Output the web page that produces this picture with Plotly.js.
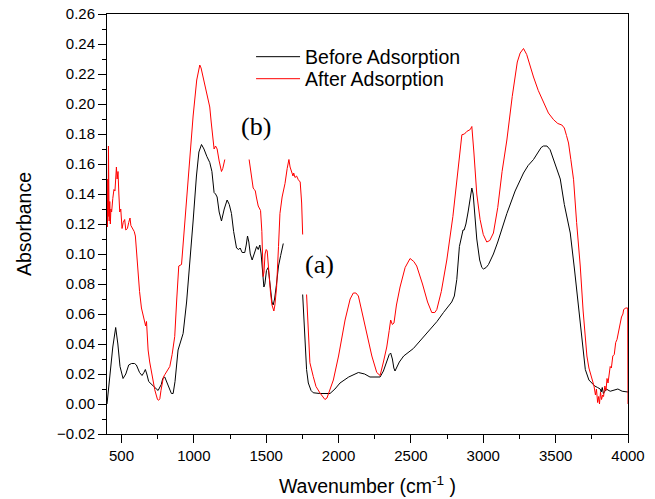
<!DOCTYPE html>
<html>
<head>
<meta charset="utf-8">
<script src="https://cdn.plot.ly/plotly-3.0.1.min.js"></script>
<style>html,body{margin:0;padding:0;background:#fff;}#chart{width:655px;height:499px;}</style>
</head>
<body>
<div id="chart"></div>
<script>
// Before Adsorption (black) — wavenumber / absorbance
const beforeX = [400,410,419,440,460,475,490,511,530,550,569,590,603,625,642,655,665,675,688,720,753,775,785,799,815,830,845,857,870,891,910,926,950,972,995,1018,1035,1053,1070,1090,1110,1125,1132,1140,1150,1161,1175,1191,1210,1230,1245,1260,1275,1295,1310,1320,1334,1352,1362,1371,1380,1390,1403,1420,1434,1445,1456,1465,1475,1484,1491,1502,1514,1522,1530,1540,1548,1558,1570,1585,1600,1618,1685,1752,1760,1768,1779,1791,1810,1825,1870,1941,1975,2010,2070,2137,2180,2217,2250,2287,2310,2333,2350,2360,2372,2382,2390,2420,2450,2517,2580,2632,2680,2725,2760,2782,2800,2817,2835,2852,2860,2868,2880,2895,2910,2921,2930,2942,2955,2975,2990,3001,3020,3036,3070,3100,3130,3163,3220,3278,3310,3347,3380,3400,3416,3440,3462,3490,3515,3532,3560,3580,3601,3630,3659,3685,3705,3730,3751,3770,3790,3808,3815,3822,3830,3840,3850,3877,3900,3930,3960,3993,4000];
const beforeY = [0.000,0.012,0.018,0.038,0.051,0.040,0.025,0.017,0.020,0.026,0.027,0.027,0.026,0.021,0.019,0.021,0.023,0.020,0.015,0.012,0.009,0.013,0.017,0.018,0.014,0.010,0.007,0.007,0.015,0.036,0.042,0.047,0.068,0.092,0.122,0.152,0.168,0.173,0.170,0.165,0.161,0.155,0.146,0.141,0.140,0.138,0.128,0.122,0.130,0.136,0.133,0.127,0.115,0.104,0.103,0.104,0.101,0.101,0.106,0.112,0.108,0.100,0.096,0.101,0.105,0.103,0.106,0.100,0.090,0.078,0.080,0.089,0.091,0.085,0.076,0.068,0.066,0.070,0.079,0.092,0.099,0.107,null,0.073,0.055,0.038,0.023,0.014,0.009,0.0075,0.007,0.007,0.010,0.014,0.018,0.021,0.020,0.018,0.018,0.018,0.022,0.029,0.033,0.034,0.030,0.024,0.022,0.028,0.032,0.037,0.044,0.050,0.055,0.061,0.065,0.068,0.072,0.083,0.105,0.114,0.116,0.116,0.120,0.128,0.138,0.144,0.140,0.124,0.110,0.096,0.091,0.090,0.091,0.093,0.100,0.108,0.117,0.127,0.142,0.154,0.159,0.163,0.168,0.171,0.172,0.172,0.1695,0.162,0.155,0.150,0.133,0.124,0.114,0.090,0.065,0.040,0.023,0.016,0.014,0.012,0.011,0.010,0.008,0.011,0.007,0.009,0.010,0.0085,0.009,0.010,0.0085,0.0078,0.008];

// After Adsorption (red)
const afterX = [400,403,406,408,410,412,415,419,423,427,432,440,448,455,460,465,470,476,482,488,495,504,512,522,530,541,550,559,565,572,580,588,596,605,615,625,638,650,661,667,673,684,695,707,720,730,740,749,757,765,773,781,790,799,815,834,850,868,882,896,915,930,949,970,995,1020,1041,1050,1064,1075,1087,1098,1110,1120,1130,1140,1150,1161,1175,1191,1200,1214,1300,1382,1395,1410,1418,1425,1432,1445,1461,1470,1479,1485,1492,1500,1507,1514,1522,1530,1540,1548,1553,1560,1572,1585,1595,1610,1630,1645,1657,1665,1675,1685,1690,1699,1710,1722,1735,1745,1752,1765,1779,1790,1802,1825,1844,1872,1906,1920,1940,1964,2000,2045,2080,2102,2120,2137,2165,2195,2230,2264,2287,2310,2333,2350,2360,2372,2383,2400,2425,2460,2494,2520,2540,2580,2615,2644,2665,2679,2710,2748,2790,2830,2852,2870,2886,2910,2921,2935,2955,2978,3000,3024,3045,3070,3100,3130,3163,3200,3235,3255,3278,3300,3320,3347,3380,3416,3450,3486,3515,3543,3560,3575,3589,3605,3624,3645,3670,3690,3716,3730,3751,3765,3775,3782,3790,3797,3803,3810,3817,3825,3831,3840,3848,3855,3862,3870,3877,3885,3895,3905,3915,3924,3935,3945,3955,3965,3970,3985,3998,4000];
const afterY = [0.136,0.118,0.150,0.125,0.172,0.140,0.122,0.135,0.120,0.130,0.128,0.137,0.143,0.142,0.152,0.158,0.150,0.155,0.140,0.128,0.130,0.117,0.121,0.123,0.116,0.117,0.121,0.124,0.119,0.118,0.116,0.115,0.112,0.100,0.087,0.075,0.064,0.058,0.054,0.052,0.055,0.036,0.028,0.021,0.014,0.0095,0.006,0.003,0.0025,0.0035,0.009,0.014,0.018,0.0195,0.022,0.025,0.033,0.045,0.070,0.092,0.093,0.112,0.136,0.163,0.192,0.216,0.226,0.224,0.218,0.213,0.2095,0.203,0.198,0.188,0.176,0.170,0.172,0.170,0.162,0.155,0.157,0.163,null,0.163,0.155,0.144,0.143,0.142,0.138,0.132,0.129,0.115,0.085,0.088,0.100,0.103,0.102,0.093,0.078,0.074,0.066,0.063,0.062,0.066,0.078,0.105,0.127,0.138,0.147,0.157,0.163,0.158,0.154,0.152,0.154,0.151,0.152,0.1495,0.148,0.134,0.113,null,0.073,0.045,0.0275,0.0184,0.0117,0.0073,0.003,0.004,0.009,0.016,0.032,0.056,0.070,0.074,0.074,0.072,0.060,0.047,0.032,0.021,0.019,0.028,0.038,0.049,0.056,0.053,0.054,0.066,0.078,0.091,0.097,0.095,0.092,0.080,0.068,0.061,0.061,0.063,0.075,0.096,0.125,0.160,0.1795,0.180,0.1817,0.183,0.185,0.168,0.140,0.123,0.113,0.108,0.109,0.114,0.131,0.155,0.176,0.205,0.228,0.234,0.237,0.233,0.226,0.218,0.209,0.201,0.194,0.1895,0.187,0.186,0.184,0.179,0.174,0.163,0.1495,0.121,0.092,0.062,0.032,0.024,0.016,0.012,0.006,0.010,0.001,0.005,0.000,0.008,0.003,0.006,0.005,0.012,0.009,0.017,0.014,0.022,0.025,0.024,0.032,0.033,0.041,0.043,0.049,0.052,0.058,0.060,0.063,0.064,0.064,0.000];

const seriesNames = ['Before Adsorption', 'After Adsorption'];
const labelTexts = ['(b)', '(a)'];
const labelX = [1429, 1871];
const labelY = [0.185, 0.093];

const sans = 'Arial, "Liberation Sans", sans-serif';
const serif = '"Times New Roman", "Liberation Serif", serif';

const traces = [
  {x: beforeX, y: beforeY, name: seriesNames[0], type: 'scatter', mode: 'lines',
   line: {color: '#000000', width: 1}, legend: 'legend'},
  {x: afterX, y: afterY, name: seriesNames[1], type: 'scatter', mode: 'lines',
   line: {color: '#ff0000', width: 1}, legend: 'legend2'}
];

const axisCommon = {
  showline: true, linecolor: '#000', linewidth: 1, mirror: true,
  ticks: 'outside', ticklen: 8, tickwidth: 1, tickcolor: '#000',
  showgrid: false, zeroline: false,
  tickfont: {family: sans, size: 15, color: '#000'}
};

const legendCommon = {
  xanchor: 'left', yanchor: 'middle', bgcolor: 'rgba(0,0,0,0)',
  font: {family: sans, size: 19.5, color: '#000'}, itemwidth: 44
};

const layout = {
  width: 655, height: 499,
  margin: {l: 107, r: 27, t: 14, b: 65},
  paper_bgcolor: '#fff', plot_bgcolor: '#fff',
  showlegend: true,
  legend: Object.assign({}, legendCommon, {x: 0.2765, y: 0.8976}),
  legend2: Object.assign({}, legendCommon, {x: 0.2765, y: 0.8452}),
  xaxis: Object.assign({}, axisCommon, {
    range: [400, 4000], dtick: 500, tick0: 0,
    minor: {dtick: 250, ticks: 'outside', ticklen: 4, tickcolor: '#000', showgrid: false},
    title: {text: 'Wavenumber (cm<sup>-1</sup> )', font: {family: sans, size: 19.5, color: '#000'}, standoff: 16}
  }),
  yaxis: Object.assign({}, axisCommon, {
    range: [-0.02, 0.26], dtick: 0.02, tick0: 0, tickformat: '.2f',
    minor: {dtick: 0.01, ticks: 'outside', ticklen: 4, tickcolor: '#000', showgrid: false},
    title: {text: 'Absorbance', font: {family: sans, size: 19.5, color: '#000'}, standoff: 20}
  }),
  annotations: labelTexts.map((t, i) => ({
    x: labelX[i], y: labelY[i], xref: 'x', yref: 'y', text: t, showarrow: false,
    font: {family: serif, size: 26, color: '#000'}
  }))
};

Plotly.newPlot('chart', traces, layout, {staticPlot: true, displayModeBar: false});
</script>
</body>
</html>
